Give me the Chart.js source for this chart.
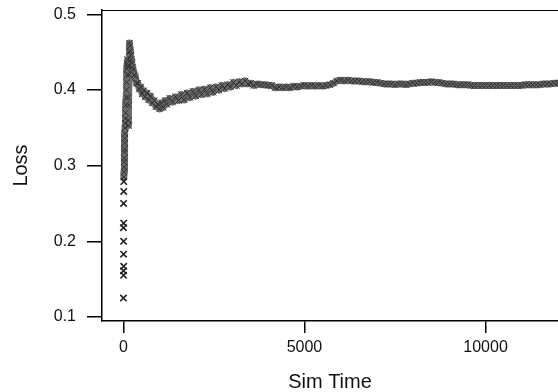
<!DOCTYPE html>
<html>
<head>
<meta charset="utf-8">
<script src="https://cdn.jsdelivr.net/npm/chart.js@4.4.1/dist/chart.umd.min.js"></script>
<style>
    html, body { margin: 0; padding: 0; background: #fff; }
    #wrap { width: 558px; height: 392px; }
</style>
</head>
<body>
<div id="wrap"><canvas id="lossChart" width="558" height="392"></canvas></div>
<script>
// isolated samples at the very start of the run
const earlyTime = [2, 6, 4, 8, 5, 7, 3, 9, 6, 10, 12];
const earlyLoss = [0.125, 0.155, 0.161, 0.167, 0.183, 0.200, 0.218, 0.224, 0.250, 0.266, 0.279];

// main running loss trace
const simTime = [
    14, 18, 20, 24, 26, 30, 32, 36, 40, 44, 48, 52, 58, 64, 70, 76, 82, 88, 94, 100,
    106, 112, 118, 124, 130, 136, 140, 144, 150, 156, 162, 170, 180, 190, 200, 215, 230, 250, 270, 300,
    330, 360, 400, 440, 480, 520, 560, 600, 650, 700, 750, 800, 850, 900, 950, 1000, 1050, 1100, 1150, 1200,
    1280, 1360, 1440, 1520, 1600, 1680, 1760, 1840, 1920, 2000, 2080, 2160, 2240, 2320, 2400, 2480, 2560, 2640, 2720, 2800,
    2880, 2960, 3040, 3120, 3200, 3280, 3360, 3440, 3520, 3600, 3700, 3800, 3900, 4000, 4100, 4200, 4300, 4400, 4500, 4600,
    4700, 4800, 4900, 5000, 5100, 5200, 5300, 5400, 5500, 5600, 5700, 5800, 5900, 6000, 6100, 6200, 6300, 6400, 6500, 6600,
    6700, 6800, 6900, 7000, 7100, 7200, 7300, 7400, 7500, 7600, 7700, 7800, 7900, 8000, 8100, 8200, 8300, 8400, 8500, 8600,
    8700, 8800, 8900, 9000, 9100, 9200, 9300, 9400, 9500, 9600, 9700, 9800, 9900, 10000, 10100, 10200, 10300, 10400, 10500, 10600,
    10700, 10800, 10900, 11000, 11100, 11200, 11300, 11400, 11500, 11600, 11700, 11800, 11900, 12000
];
const loss = [
    0.285, 0.292, 0.298, 0.305, 0.310, 0.318, 0.322, 0.330, 0.336, 0.342, 0.350, 0.356, 0.362, 0.370, 0.380, 0.390, 0.400, 0.410, 0.420, 0.428,
    0.435, 0.440, 0.432, 0.440, 0.430, 0.390, 0.360, 0.353, 0.380, 0.420, 0.450, 0.462, 0.458, 0.452, 0.446, 0.440, 0.436, 0.430, 0.427, 0.420,
    0.418, 0.409, 0.409, 0.401, 0.404, 0.395, 0.399, 0.391, 0.396, 0.387, 0.392, 0.383, 0.386, 0.378, 0.381, 0.375, 0.383, 0.377, 0.386, 0.381,
    0.389, 0.384, 0.391, 0.386, 0.394, 0.387, 0.396, 0.390, 0.398, 0.392, 0.400, 0.394, 0.401, 0.395, 0.403, 0.397, 0.404, 0.400, 0.406, 0.402,
    0.407, 0.404, 0.410, 0.406, 0.411, 0.408, 0.412, 0.408, 0.409, 0.406, 0.408, 0.407, 0.407, 0.406, 0.406, 0.403, 0.404, 0.403, 0.404, 0.403,
    0.405, 0.404, 0.405, 0.406, 0.405, 0.406, 0.405, 0.406, 0.405, 0.406, 0.407, 0.409, 0.412, 0.413, 0.412, 0.413, 0.412, 0.412, 0.412, 0.411,
    0.411, 0.411, 0.410, 0.410, 0.409, 0.408, 0.408, 0.408, 0.407, 0.408, 0.408, 0.407, 0.408, 0.409, 0.409, 0.410, 0.410, 0.410, 0.411, 0.410,
    0.410, 0.409, 0.408, 0.408, 0.408, 0.407, 0.407, 0.407, 0.407, 0.406, 0.406, 0.406, 0.406, 0.406, 0.406, 0.406, 0.406, 0.406, 0.406, 0.406,
    0.406, 0.406, 0.406, 0.406, 0.407, 0.407, 0.407, 0.407, 0.407, 0.408, 0.408, 0.408, 0.409, 0.409
];

const xTicks = [0, 5000, 10000];
const yTicks = [0.1, 0.2, 0.3, 0.4, 0.5];

Chart.defaults.font.family = "'Liberation Sans', Arial, Helvetica, sans-serif";
Chart.defaults.color = "#111";

const toPoints = (xs, ys) => xs.map((x, i) => ({ x: x, y: ys[i] }));

// top edge of the plot frame
const frameTop = {
    id: "frameTop",
    afterDraw(chart) {
        const { ctx, chartArea } = chart;
        ctx.save();
        ctx.strokeStyle = "#000";
        ctx.lineWidth = 1;
        ctx.beginPath();
        ctx.moveTo(chartArea.left, chartArea.top + 0.5);
        ctx.lineTo(chartArea.right, chartArea.top + 0.5);
        ctx.stroke();
        ctx.restore();
    },
};

new Chart(document.getElementById("lossChart"), {
    type: "scatter",
    data: {
        datasets: [
            {
                label: "early",
                data: toPoints(earlyTime, earlyLoss),
                showLine: false,
                pointStyle: "crossRot",
                pointRadius: 4.5,
                pointBorderColor: "#222",
                pointBorderWidth: 1.6,
            },
            {
                label: "Loss",
                data: toPoints(simTime, loss),
                showLine: true,
                borderColor: "#6c6c6c",
                borderWidth: 7,
                borderJoinStyle: "round",
                borderCapStyle: "round",
                tension: 0,
                pointStyle: "crossRot",
                pointRadius: 4.5,
                pointBorderColor: "#303030",
                pointBorderWidth: 1,
            },
        ],
    },
    options: {
        responsive: false,
        animation: false,
        layout: { padding: 0, autoPadding: false },
        plugins: {
            legend: { display: false },
            tooltip: { enabled: false },
        },
        scales: {
            x: {
                type: "linear",
                position: "bottom",
                min: -590,
                max: 12000,
                afterBuildTicks: (scale) => { scale.ticks = xTicks.map(v => ({ value: v })); },
                afterFit: (scale) => { scale.height = 71; scale.paddingLeft = 0; scale.paddingRight = 0; },
                ticks: {
                    font: { size: 16 },
                    color: "#111",
                    padding: 5,
                    maxRotation: 0,
                    autoSkip: false,
                    callback: (v) => String(v),
                },
                grid: { drawOnChartArea: false, drawTicks: true, tickLength: 12, color: "#000", lineWidth: 1.5 },
                border: { display: true, color: "#000", width: 1.5 },
                title: {
                    display: true,
                    text: "Sim Time",
                    color: "#111",
                    font: { size: 20 },
                    padding: { top: 0, bottom: -2 },
                },
            },
            y: {
                type: "linear",
                min: 0.0947,
                max: 0.5057,
                afterBuildTicks: (scale) => { scale.ticks = yTicks.map(v => ({ value: v })); },
                afterFit: (scale) => { scale.width = 102; scale.paddingTop = 10; scale.paddingBottom = 0; },
                ticks: {
                    font: { size: 16 },
                    color: "#111",
                    padding: 11,
                    callback: (v) => v.toFixed(1),
                },
                grid: { drawOnChartArea: false, drawTicks: true, tickLength: 15, color: "#000", lineWidth: 1.5 },
                border: { display: true, color: "#000", width: 1.5 },
                title: {
                    display: true,
                    text: "Loss",
                    color: "#111",
                    font: { size: 20 },
                    padding: { top: 9, bottom: 0 },
                },
            },
        },
    },
    plugins: [frameTop],
});
</script>
</body>
</html>
